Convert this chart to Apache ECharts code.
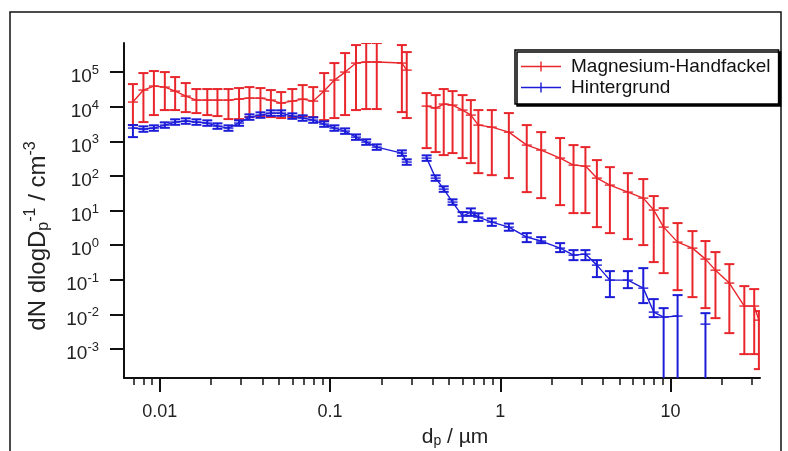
<!DOCTYPE html>
<html><head><meta charset="utf-8">
<script src="https://cdn.jsdelivr.net/npm/echarts@6/dist/echarts.min.js"></script>
<style>html,body{margin:0;padding:0;background:#fff}#c{width:788px;height:451px}</style>
</head><body><div id="c"></div>
<script>
// ---- data ----
// SMPS size grid (µm)
const smpsD = [0.00695, 0.00801, 0.00923, 0.0107, 0.0123, 0.0142, 0.0164, 0.0190, 0.0218, 0.0253, 0.0292, 0.0336, 0.0390, 0.0449, 0.0516, 0.0600, 0.0690, 0.0796, 0.0923, 0.106, 0.1225, 0.142, 0.163, 0.188, 0.264, 0.282];
const redSmps   = [13600, 30200, 39400, 36800, 28200, 20200, 15500, 15500, 15500, 15500, 16600, 17700, 17700, 15500, 12700, 14500, 16600, 14500, 28200, 58700, 100000, 182000, 195000, 195000, 182000, 114000];
const redSmpsHi = [45000, 93600, 107000, 100000, 71700, 48100, 32300, 32300, 32300, 32300, 34500, 36800, 34500, 30200, 26400, 32300, 42100, 36800, 93600, 182000, 354000, 603000, 689000, 689000, 603000, 378000];
const redSmpsLo = [2940, 3590, 5720, 7980, 7980, 6980, 6530, 5720, 5350, 4380, 4380, 5000, 5350, 5000, 4690, 5000, 5350, 5000, 4100, 4690, 5720, 7980, 8530, 8530, 6980, 4690];
const blueSmps   = [2410, 2250, 2410, 2940, 3590, 3840, 3590, 3360, 2750, 2410, 3360, 5000, 5720, 6530, 6530, 5350, 4690, 4100, 3140, 2410, 1970, 1320, 948, 679, 456, 251];
const blueSmpsLo = [1320, 1880, 2010, 2450, 2990, 3200, 2990, 2800, 2290, 2010, 2800, 4170, 4770, 5440, 5440, 4460, 3910, 3420, 2620, 2010, 1640, 1100, 790, 566, 380, 209];
const blueSmpsHi = [2940, 2700, 2890, 3530, 4310, 4610, 4310, 4030, 3300, 2890, 4030, 6000, 6860, 7840, 7840, 6420, 5630, 4920, 3770, 2890, 2360, 1580, 1140, 815, 547, 301];
// APS size grid (µm)
const apsD = [0.369, 0.417, 0.465, 0.524, 0.600, 0.671, 0.743, 0.891, 1.122, 1.429, 1.737, 2.244, 2.69, 3.16, 3.69, 4.40, 5.61, 6.91, 7.96, 9.10, 10.99, 13.44, 16.02, 18.34, 22.13, 27.10, 30.98, 33.0];
const redAps   = [10400, 9120, 11900, 11100, 7980, 5720, 2940, 2570, 1840, 776, 557, 327, 205, 192, 86.3, 54.2, 34.0, 22.8, 10.3, 3.31, 1.22, 0.818, 0.394, 0.189, 0.0798, 0.0173, 0.0173, 0.00679];
const redApsHi = [24700, 21600, 32300, 28200, 21600, 15500, 7980, 7980, 6530, 2940, 1840, 1240, 776, 679, 286, 179, 120, 80.9, 26.1, 11.7, 4.33, 2.54, 1.31, 0.628, 0.282, 0.0653, 0.0535, 0.0124];
const redApsLo = [635, 488, 399, 456, 327, 234, 120, 105, 86.3, 34.0, 22.8, 14.3, 8.41, 8.41, 3.31, 2.22, 1.49, 1.0, 0.323, 0.155, 0.050, 0.0314, 0.0151, 0.00776, 0.00286, 0.000708, 0.000708, 0.000261];
// lower bounds of 1e-6 = bar running off the bottom of the axis
const blueAps   = [327, 86.3, 41.5, 17.5, 6.89, 9.0, 6.44, 4.62, 3.31, 1.70, 1.31, 0.818, 0.514, 0.549, 0.264, 0.0973, 0.0973, 0.0571, 0.0116, 0.0083, 0.0089, null, 0.00521, null, null, null, null, null];
const blueApsLo = [272, 72, 34.6, 14.6, 4.62, 7.0, 5.0, 3.6, 2.6, 1.22, 1.14, 0.628, 0.368, 0.368, 0.119, 0.0314, 0.0571, 0.0211, 0.0083, 0.000001, 0.000001, null, 0.000001, null, null, null, null, null];
const blueApsHi = [392, 104, 50, 21, 9.0, 11.5, 8.3, 5.9, 4.2, 2.22, 1.70, 1.14, 0.716, 0.716, 0.368, 0.177, 0.177, 0.216, 0.0275, 0.0151, 0.0359, null, 0.0108, null, null, null, null, null];
// axis ticks
const xMajorTicks = [0.01, 0.1, 1, 10];
const xMinorTicks = [0.007, 0.008, 0.009, 0.02, 0.03, 0.04, 0.05, 0.06, 0.07, 0.08, 0.09, 0.2, 0.3, 0.4, 0.5, 0.6, 0.7, 0.8, 0.9, 2, 3, 4, 5, 6, 7, 8, 9, 20, 30];
const yMajorTicks = [1e-3, 1e-2, 1e-1, 1, 10, 100, 1e3, 1e4, 1e5];
const seriesNames = ['Magnesium-Handfackel', 'Hintergrund'];

// ---- chart ----
const FF = '"Liberation Sans", Arial, sans-serif';
const RED = '#e8262b', BLUE = '#1c1cd8';
const X_MIN = 0.00616, X_MAX = 33.5, Y_MIN = 1.445e-4, Y_MAX = 6.92e5;

function segments(d, v) {
  const segs = []; let cur = [];
  d.forEach((x, i) => {
    if (v[i] == null) { if (cur.length) segs.push(cur); cur = []; }
    else cur.push([x, v[i]]);
  });
  if (cur.length) segs.push(cur);
  return segs;
}
function errData(d, v, lo, hi) {
  const out = [];
  d.forEach((x, i) => { if (v[i] != null) out.push([x, lo[i], hi[i], v[i]]); });
  return out;
}
function lineSeries(name, color, data) {
  return { type: 'line', name, data, symbol: 'none', z: 4, silent: true,
    itemStyle: { color }, lineStyle: { color, width: 1.4 }, animation: false };
}
function errSeries(name, color, data) {
  return {
    type: 'custom', name, data, clip: true, z: 3, silent: true, animation: false,
    itemStyle: { color },
    encode: { x: 0, y: [1, 2, 3] },
    renderItem(params, api) {
      const x = api.value(0), lo = api.value(1), hi = api.value(2), v = api.value(3);
      const pLo = api.coord([x, lo]), pHi = api.coord([x, hi]), p = api.coord([x, v]);
      const w = 5, m = 5;
      const st = { stroke: color, lineWidth: 2 };
      const st2 = { stroke: color, lineWidth: 1.4 };
      return { type: 'group', children: [
        { type: 'line', shape: { x1: pLo[0], y1: pLo[1], x2: pHi[0], y2: pHi[1] }, style: st },
        { type: 'line', shape: { x1: pLo[0] - w, y1: pLo[1], x2: pLo[0] + w, y2: pLo[1] }, style: st },
        { type: 'line', shape: { x1: pHi[0] - w, y1: pHi[1], x2: pHi[0] + w, y2: pHi[1] }, style: st },
        { type: 'line', shape: { x1: p[0] - m, y1: p[1], x2: p[0] + m, y2: p[1] }, style: st2 }
      ]};
    }
  };
}

const series = [];
segments(smpsD, redSmps).concat(segments(apsD, redAps)).forEach(s => series.push(lineSeries(seriesNames[0], RED, s)));
segments(smpsD, blueSmps).concat(segments(apsD, blueAps)).forEach(s => series.push(lineSeries(seriesNames[1], BLUE, s)));
series.push(errSeries(seriesNames[0], RED, errData(smpsD, redSmps, redSmpsLo, redSmpsHi).concat(errData(apsD, redAps, redApsLo, redApsHi))));
series.push(errSeries(seriesNames[1], BLUE, errData(smpsD, blueSmps, blueSmpsLo, blueSmpsHi).concat(errData(apsD, blueAps, blueApsLo, blueApsHi))));

const chart = echarts.init(document.getElementById('c'), null, { renderer: 'canvas' });
chart.setOption({
  animation: false,
  backgroundColor: '#fff',
  textStyle: { fontFamily: FF },
  grid: { left: 124, right: 28, top: 43, bottom: 73 },
  legend: {
    data: seriesNames, orient: 'vertical', left: 515, top: 50,
    padding: [6, 8, 6, 6], itemWidth: 40, itemHeight: 10, itemGap: 0,
    icon: 'path://M0,4.3h40v1.4h-40z M19.3,0h1.4v10h-1.4z',
    borderColor: '#000', borderWidth: 1.5, backgroundColor: '#fff',
    shadowColor: '#000', shadowOffsetX: 2, shadowOffsetY: 2, shadowBlur: 0,
    selectedMode: false,
    textStyle: { fontFamily: FF, fontSize: 19, color: '#111', lineHeight: 21, padding: [0, 0, 0, 5] }
  },
  xAxis: [
    { type: 'log', position: 'bottom', min: X_MIN, max: X_MAX,
      axisLine: { show: true, onZero: false, lineStyle: { color: '#111', width: 2 } },
      axisTick: { show: true, length: 14, lineStyle: { color: '#111', width: 2 }, customValues: xMajorTicks },
      axisLabel: { show: true, customValues: xMajorTicks, margin: 25, fontSize: 18, color: '#222', fontFamily: FF,
        formatter: v => v >= 1 ? String(Math.round(v)) : String(+(+v).toPrecision(1)) },
      splitLine: { show: false }, minorTick: { show: false } },
    { type: 'log', position: 'bottom', min: X_MIN, max: X_MAX,
      axisLine: { show: false, onZero: false },
      axisTick: { show: true, length: 7, lineStyle: { color: '#111', width: 1.5 }, customValues: xMinorTicks },
      axisLabel: { show: false }, splitLine: { show: false } }
  ],
  yAxis: {
    type: 'log', min: Y_MIN, max: Y_MAX,
    axisLine: { show: true, onZero: false, lineStyle: { color: '#111', width: 2 } },
    axisTick: { show: true, length: 14, lineStyle: { color: '#111', width: 2 }, customValues: yMajorTicks },
    axisLabel: { show: true, customValues: yMajorTicks, margin: 25, color: '#222',
      formatter: v => '{b|10}{s|' + Math.round(Math.log10(v)) + '}',
      rich: { b: { fontSize: 19, fontFamily: FF, color: '#222', padding: [10, 0, 0, 0] },
              s: { fontSize: 13, fontFamily: FF, color: '#222', padding: [0, 0, 3, 0] } } },
    splitLine: { show: false }
  },
  graphic: [
    { type: 'rect', shape: { x: 10, y: 12, width: 771, height: 460 }, style: { fill: 'none', stroke: '#111', lineWidth: 1.5 }, silent: true, z: 0 },
    { type: 'text', x: 38, y: 236, rotation: Math.PI / 2, silent: true,
      style: { text: '{a|dN dlogD}{sub|p}{sup|-1}{a| / cm}{sup|-3}', align: 'center', verticalAlign: 'middle',
        rich: { a: { fontSize: 24, fontFamily: FF, fill: '#222' },
                sub: { fontSize: 16, fontFamily: FF, fill: '#222', padding: [12, 0, 0, 0] },
                sup: { fontSize: 16, fontFamily: FF, fill: '#222', padding: [0, 0, 14, 0] } } } },
    { type: 'text', x: 455, y: 437, silent: true,
      style: { text: '{a|d}{sub|p}{a| / µm}', align: 'center', verticalAlign: 'middle',
        rich: { a: { fontSize: 21, fontFamily: FF, fill: '#222' },
                sub: { fontSize: 14, fontFamily: FF, fill: '#222', padding: [9, 0, 0, 0] } } } }
  ],
  series
});
</script></body></html>
